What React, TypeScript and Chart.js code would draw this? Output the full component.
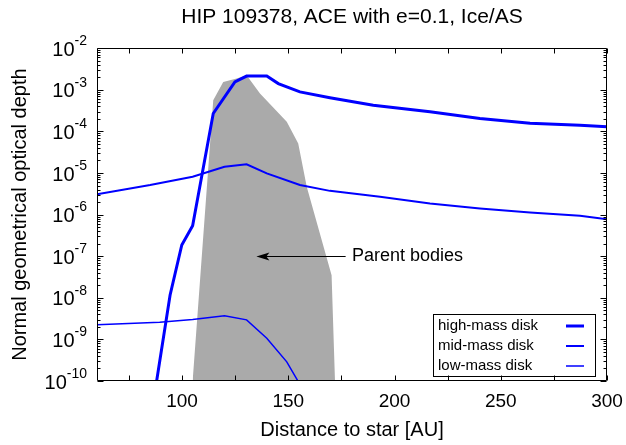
import { useEffect, useRef } from 'react';
import { Chart, registerables } from 'chart.js';

Chart.register(...registerables);

const FONT = '"Liberation Sans", Arial, Helvetica, sans-serif';

const titleText = 'HIP 109378, ACE with e=0.1, Ice/AS';
const xAxisTitle = 'Distance to star [AU]';
const yAxisTitle = 'Normal geometrical optical depth';

const xMin = 60;
const xMax = 300;
const yMin = 1e-10;
const yMax = 1e-2;
const xMajorTicks = [100, 150, 200, 250, 300];
const xMinorTicks = [75, 125, 175, 225, 275];
const yExponents = [-10, -9, -8, -7, -6, -5, -4, -3, -2];

// high-mass disk
const highX = [85, 94.4, 99.9, 105, 114.7, 124.9, 130.4, 139.9, 145.3, 155.5, 169.6, 190, 216.7, 240.2, 263.8, 287.3, 300];
const highY = [1.0e-11, 1.17e-8, 1.86e-7, 5.37e-7, 2.69e-4, 1.55e-3, 2.14e-3, 2.14e-3, 1.41e-3, 8.9e-4, 6.46e-4, 4.27e-4, 2.95e-4, 2.04e-4, 1.58e-4, 1.41e-4, 1.29e-4];

// mid-mass disk
const midX = [60, 85, 105, 120, 130.4, 139.9, 155.5, 169.6, 193.2, 216.7, 240.2, 263.8, 287.3, 300];
const midY = [3.09e-6, 5.13e-6, 8.13e-6, 1.41e-5, 1.62e-5, 9.77e-6, 5.13e-6, 3.72e-6, 2.69e-6, 1.86e-6, 1.41e-6, 1.12e-6, 9.33e-7, 7.76e-7];

// low-mass disk
const lowX = [60, 89.5, 105, 120, 130.4, 139.9, 149.3, 154.8, 160];
const lowY = [2.24e-9, 2.57e-9, 3.02e-9, 3.72e-9, 2.95e-9, 1.07e-9, 2.88e-10, 9.5e-11, 3.8e-11];

// parent bodies (grey region)
const pbX = [105, 114.7, 119.4, 125.7, 130.4, 136.7, 149.3, 154.7, 158.7, 170.4, 172];
const pbY = [1e-10, 5.6e-4, 1.55e-3, 1.86e-3, 2.24e-3, 8.1e-4, 1.7e-4, 5.1e-5, 4.7e-6, 3.5e-8, 1e-10];

const seriesLabels = ['high-mass disk', 'mid-mass disk', 'low-mass disk'];
const seriesWidths = [3, 2, 1.5];
const lineColor = '#0000ff';
const greyColor = 'rgb(170,170,170)';

const annotationText = 'Parent bodies';
const arrowFromX = 177;
const arrowToX = 135;
const arrowY = 1e-7;
const annotationX = 180;

const toPoints = (xs: number[], ys: number[]) => xs.map((x, i) => ({ x, y: ys[i] }));

const decorPlugin = {
  id: 'decor',
  afterDraw(chart: any) {
    const { ctx, chartArea } = chart;
    const xs = chart.scales.x;
    const ys = chart.scales.y;
    const L = Math.round(chartArea.left) + 0.5;
    const R = Math.round(chartArea.right) - 0.5;
    const T = Math.round(chartArea.top) + 0.5;
    const B = Math.round(chartArea.bottom) - 0.5;
    ctx.save();
    ctx.strokeStyle = '#000';
    ctx.fillStyle = '#000';
    ctx.lineWidth = 1;
    // frame
    ctx.beginPath();
    ctx.moveTo(L, T);
    ctx.lineTo(R, T);
    ctx.lineTo(R, B);
    ctx.lineTo(L, B);
    ctx.closePath();
    ctx.stroke();
    // x ticks
    ctx.beginPath();
    [...xMajorTicks, ...xMinorTicks].forEach((v) => {
      const px = Math.round(xs.getPixelForValue(v)) + 0.5;
      const len = 5;
      ctx.moveTo(px, B);
      ctx.lineTo(px, B - len);
      ctx.moveTo(px, T);
      ctx.lineTo(px, T + len);
    });
    // y ticks
    yExponents.forEach((e) => {
      const major = Math.pow(10, e);
      const py = Math.round(ys.getPixelForValue(major)) + 0.5;
      ctx.moveTo(L, py);
      ctx.lineTo(L + 6, py);
      ctx.moveTo(R, py);
      ctx.lineTo(R - 6, py);
      if (e < -2) {
        for (let m = 2; m <= 9; m++) {
          const pm = Math.round(ys.getPixelForValue(m * major)) + 0.5;
          ctx.moveTo(L, pm);
          ctx.lineTo(L + 3, pm);
          ctx.moveTo(R, pm);
          ctx.lineTo(R - 3, pm);
        }
      }
    });
    ctx.stroke();

    // y tick labels 10^e
    yExponents.forEach((e) => {
      const py = ys.getPixelForValue(Math.pow(10, e));
      const expStr = String(e);
      ctx.font = `14px ${FONT}`;
      const expW = ctx.measureText(expStr).width;
      const xEnd = 87;
      ctx.textBaseline = 'middle';
      ctx.textAlign = 'left';
      ctx.fillText(expStr, xEnd - expW, py - 7);
      ctx.font = `20px ${FONT}`;
      ctx.textAlign = 'right';
      ctx.fillText('10', xEnd - expW, py + 2);
    });

    // annotation arrow
    const ay = Math.round(ys.getPixelForValue(arrowY)) + 0.5;
    const ax0 = xs.getPixelForValue(arrowFromX);
    const ax1 = xs.getPixelForValue(arrowToX);
    ctx.beginPath();
    ctx.moveTo(ax0, ay);
    ctx.lineTo(ax1 + 8, ay);
    ctx.stroke();
    ctx.beginPath();
    ctx.moveTo(ax1, ay);
    ctx.lineTo(ax1 + 13, ay - 4);
    ctx.lineTo(ax1 + 10, ay);
    ctx.lineTo(ax1 + 13, ay + 4);
    ctx.closePath();
    ctx.fill();
    ctx.font = `18px ${FONT}`;
    ctx.textAlign = 'left';
    ctx.textBaseline = 'middle';
    ctx.fillText(annotationText, xs.getPixelForValue(annotationX), ay);

    // legend box
    const bx = 433.5, by = 314.5, bw = 162, bh = 62;
    ctx.strokeRect(bx, by, bw, bh);
    ctx.font = `15px ${FONT}`;
    ctx.textAlign = 'left';
    seriesLabels.forEach((lab, i) => {
      const ly = 326 + i * 20;
      ctx.fillStyle = '#000';
      ctx.fillText(lab, 438, ly);
      ctx.strokeStyle = lineColor;
      ctx.lineWidth = seriesWidths[i];
      ctx.beginPath();
      ctx.moveTo(566, ly);
      ctx.lineTo(584, ly);
      ctx.stroke();
    });
    ctx.restore();
  },
};

export default function App() {
  const ref = useRef<HTMLCanvasElement | null>(null);
  useEffect(() => {
    document.body.style.margin = '0';
    if (!ref.current) return;
    Chart.defaults.font.family = FONT;
    Chart.defaults.color = '#000';
    const chart = new Chart(ref.current, {
      type: 'line',
      data: {
        datasets: [
          {
            label: seriesLabels[0],
            data: toPoints(highX, highY),
            borderColor: lineColor,
            borderWidth: seriesWidths[0],
            pointRadius: 0,
            tension: 0,
            fill: false,
            order: 1,
          },
          {
            label: seriesLabels[1],
            data: toPoints(midX, midY),
            borderColor: lineColor,
            borderWidth: seriesWidths[1],
            pointRadius: 0,
            tension: 0,
            fill: false,
            order: 2,
          },
          {
            label: seriesLabels[2],
            data: toPoints(lowX, lowY),
            borderColor: lineColor,
            borderWidth: seriesWidths[2],
            pointRadius: 0,
            tension: 0,
            fill: false,
            order: 3,
          },
          {
            label: annotationText,
            data: toPoints(pbX, pbY),
            borderColor: greyColor,
            borderWidth: 0,
            backgroundColor: greyColor,
            pointRadius: 0,
            tension: 0,
            fill: 'start',
            order: 10,
          },
        ],
      },
      options: {
        responsive: false,
        animation: false,
        devicePixelRatio: 1,
        layout: { padding: { left: 0, right: 19, top: 0, bottom: 0 } },
        plugins: {
          legend: { display: false },
          tooltip: { enabled: false },
          title: {
            display: true,
            fullSize: false,
            text: titleText,
            color: '#000',
            font: { size: 21, weight: 'normal', family: FONT },
            padding: { top: 5, bottom: 18 },
          },
        },
        scales: {
          x: {
            type: 'linear',
            min: xMin,
            max: xMax,
            grid: { display: false, drawTicks: false },
            border: { display: false },
            afterBuildTicks: (s: any) => {
              s.ticks = xMajorTicks.map((v) => ({ value: v }));
            },
            afterFit: (s: any) => {
              s.height = 64;
              s.paddingLeft = 0;
              s.paddingRight = 0;
            },
            ticks: {
              font: { size: 19, family: FONT },
              color: '#000',
              padding: 9,
              maxRotation: 0,
              autoSkip: false,
            },
            title: {
              display: true,
              text: xAxisTitle,
              color: '#000',
              font: { size: 20, family: FONT },
              padding: { top: 0, bottom: 3 },
            },
          },
          y: {
            type: 'logarithmic',
            min: yMin,
            max: yMax,
            grid: { display: false, drawTicks: false },
            border: { display: false },
            ticks: { display: false },
            afterFit: (s: any) => {
              s.width = 97;
              s.paddingTop = 0;
              s.paddingBottom = 0;
            },
            title: {
              display: true,
              text: yAxisTitle,
              color: '#000',
              font: { size: 20, family: FONT },
              padding: { top: 8, bottom: 0 },
            },
          },
        },
      },
      plugins: [decorPlugin],
    });
    return () => chart.destroy();
  }, []);
  return (
    <div style={{ width: 626, height: 445 }}>
      <canvas ref={ref} width={626} height={445} />
    </div>
  );
}
